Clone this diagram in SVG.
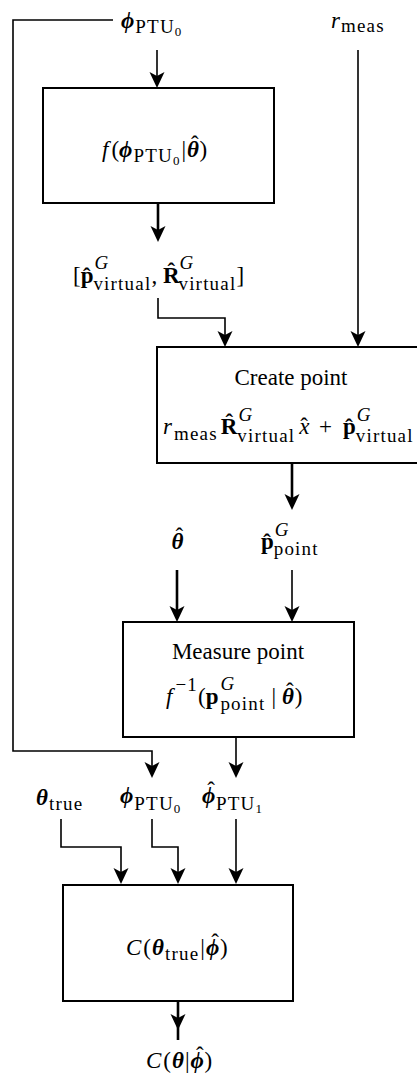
<svg xmlns="http://www.w3.org/2000/svg" width="417" height="1077" viewBox="0 0 417 1077">
<style>
.t { font-family: "Liberation Serif", "DejaVu Serif", serif; font-size: 23px; fill: #000; }
.i { font-style: italic; }
.b { font-weight: bold; }
.bi { font-weight: bold; font-style: italic; }
.sb { font-size: 19px; letter-spacing: 1.2px; }
.sbb { font-size: 13px; }
.h { font-size: 23px; font-weight: normal; font-style: normal; letter-spacing: 0; }
.box { fill: #fff; stroke: #000; stroke-width: 2; }
.c { fill: none; stroke: #000; stroke-width: 1.6; marker-end: url(#ah); }
.ck { fill: none; stroke: #000; stroke-width: 2.6; marker-end: url(#ah); }
</style>
<defs>
<marker id="ah" markerUnits="userSpaceOnUse" orient="auto" markerWidth="30" markerHeight="30" refX="0" refY="0" overflow="visible">
<path d="M4,0 L-12,-7.5 L-8,0 L-12,7.5 Z" fill="#000"/>
</marker>
</defs>
<rect width="417" height="1077" fill="#fff"/>

<g id="connectors">
<path class="c" d="M113,20 H13 V751 H152 V774"/>
<path class="c" d="M157,50 V84"/>
<path class="ck" d="M158,203 V238"/>
<path class="c" d="M158,298 V318 H225 V343"/>
<path class="c" d="M358,50 V343"/>
<path class="ck" d="M292,463 V506"/>
<path class="ck" d="M177,570 V618"/>
<path class="c" d="M292,570 V618"/>
<path class="c" d="M236,737 V774"/>
<path class="c" d="M61,819 V847 H121 V880"/>
<path class="c" d="M152,819 V847 H178 V880"/>
<path class="c" d="M236,819 V880"/>
<path fill="none" stroke="#000" stroke-width="2.6" d="M178,1001 V1040"/>
<path d="M178,1030 L170.5,1014 L178,1018 L185.5,1014 Z" fill="#000"/>
</g>

<g id="in-phi">
<text class="t" x="121" y="28"><tspan class="bi">ϕ</tspan><tspan class="sb" dx="1" y="33">PTU</tspan><tspan class="sbb" y="36">0</tspan></text>
</g>
<g id="in-rmeas">
<text class="t" x="331" y="28"><tspan class="i">r</tspan><tspan class="sb" dx="1" y="32">meas</tspan></text>
</g>

<g id="box-f">
<rect class="box" x="43" y="88" width="231" height="115"/>
<text class="t" x="102" y="157"><tspan class="i">f</tspan><tspan dx="3">(</tspan><tspan class="bi">ϕ</tspan><tspan class="sb" dx="1" y="162">PTU</tspan><tspan class="sbb" y="165">0</tspan><tspan dx="2" y="157">|</tspan><tspan class="bi" dx="1">θ</tspan><tspan class="h" dx="-8" y="152">ˆ</tspan><tspan dx="1" y="157">)</tspan></text>
</g>

<g id="virtual-pose">
<text class="t" x="73" y="283"><tspan>[</tspan><tspan class="b">p̂</tspan><tspan class="sb i" dx="1" y="269">G</tspan><tspan class="sb" dx="-16" y="290">virtual</tspan><tspan y="283">, </tspan><tspan class="b">R̂</tspan><tspan class="sb i" dx="0" y="269">G</tspan><tspan class="sb" dx="-16" y="290">virtual</tspan><tspan y="283">]</tspan></text>
</g>

<g id="box-create">
<rect class="box" x="157" y="347" width="300" height="116"/>
<text class="t" x="291" y="385" text-anchor="middle">Create point</text>
<text class="t" x="163" y="434"><tspan class="i">r</tspan><tspan class="sb" dx="2" y="440">meas</tspan><tspan class="b" dx="3" y="434">R̂</tspan><tspan class="sb i" dx="1" y="421">G</tspan><tspan class="sb" dx="-16" y="442">virtual</tspan><tspan class="i" dx="4" y="434">x</tspan><tspan class="h" dx="-9.2" y="434">ˆ</tspan><tspan dx="11">+</tspan><tspan class="b" dx="11">p̂</tspan><tspan class="sb i" dx="1" y="421">G</tspan><tspan class="sb" dx="-16" y="442">virtual</tspan></text>
</g>

<g id="in-thetahat">
<text class="t" x="171.5" y="549"><tspan class="bi">θ</tspan><tspan class="h" dx="-8" y="544">ˆ</tspan></text>
</g>
<g id="point">
<text class="t" x="261" y="549"><tspan class="b">p̂</tspan><tspan class="sb i" dx="1" y="536">G</tspan><tspan class="sb" dx="-16" y="555">point</tspan></text>
</g>

<g id="box-measure">
<rect class="box" x="123" y="622" width="231" height="115"/>
<text class="t" x="238" y="659" text-anchor="middle">Measure point</text>
<text class="t" x="166" y="704"><tspan class="i">f</tspan><tspan class="sb" dx="3" y="691">−1</tspan><tspan y="704">(</tspan><tspan class="b">p</tspan><tspan class="sb i" dx="2" y="690">G</tspan><tspan class="sb" dx="-15" y="710">point</tspan><tspan dx="6" y="704">|</tspan><tspan class="bi" dx="6">θ</tspan><tspan class="h" dx="-8" y="699">ˆ</tspan><tspan dx="1" y="704">)</tspan></text>
</g>

<g id="in-thetatrue">
<text class="t" x="36" y="805"><tspan class="bi">θ</tspan><tspan class="sb" dx="1" y="810">true</tspan></text>
</g>
<g id="in-phi0">
<text class="t" x="120" y="803"><tspan class="bi">ϕ</tspan><tspan class="sb" dx="1" y="810">PTU</tspan><tspan class="sbb" y="813">0</tspan></text>
</g>
<g id="in-phi1">
<text class="t" x="202" y="803"><tspan class="bi">ϕ</tspan><tspan class="h" dx="-8" y="798">ˆ</tspan><tspan class="sb" dx="1" y="810">PTU</tspan><tspan class="sbb" y="813">1</tspan></text>
</g>

<g id="box-cost">
<rect class="box" x="63" y="885" width="230" height="116"/>
<text class="t" x="126" y="955"><tspan class="i">C</tspan><tspan dx="2">(</tspan><tspan class="bi" dx="1">θ</tspan><tspan class="sb" dx="1" y="960">true</tspan><tspan dx="1" y="955">|</tspan><tspan class="bi" dx="1">ϕ</tspan><tspan class="h" dx="-8" y="950">ˆ</tspan><tspan dx="1" y="955">)</tspan></text>
</g>

<g id="out-cost">
<text class="t" x="146" y="1068"><tspan class="i">C</tspan><tspan dx="2">(</tspan><tspan class="bi" dx="1">θ</tspan><tspan dx="1">|</tspan><tspan class="bi" dx="1">ϕ</tspan><tspan class="h" dx="-8" y="1063">ˆ</tspan><tspan dx="1" y="1068">)</tspan></text>
</g>
</svg>
